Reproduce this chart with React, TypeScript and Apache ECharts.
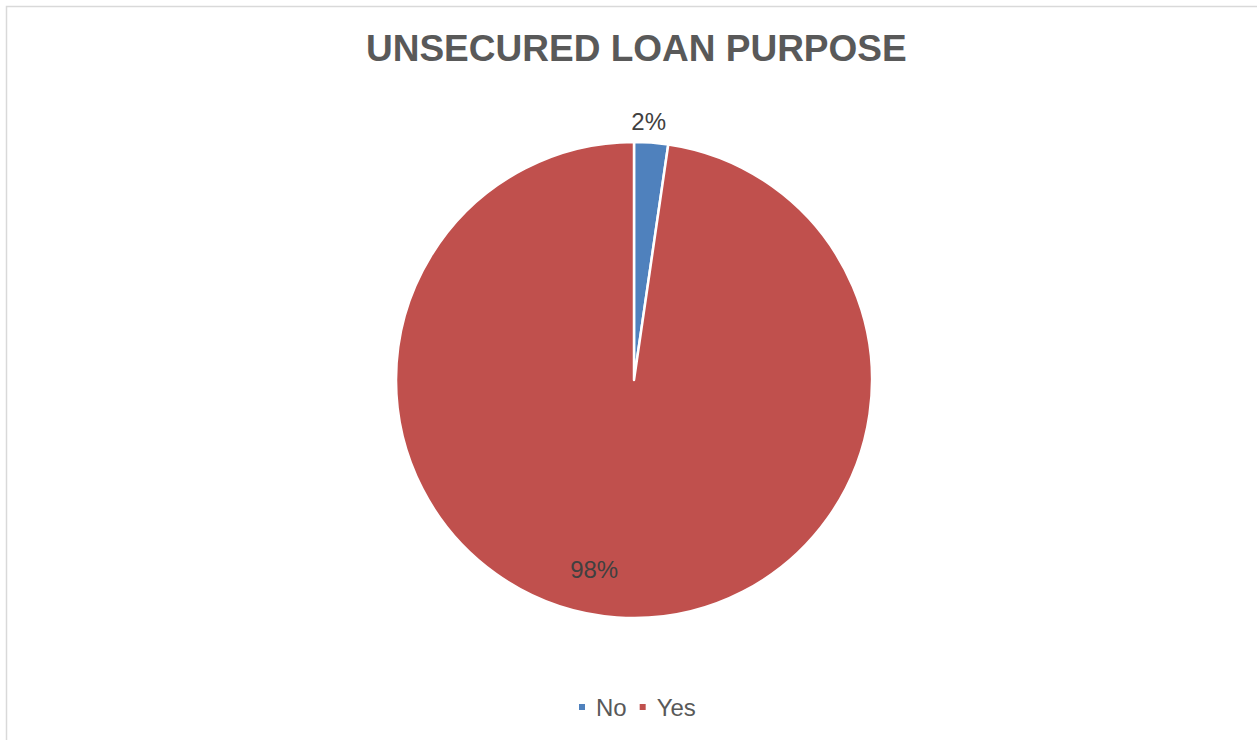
import React, { useEffect, useRef } from "react";
import * as echarts from "echarts";

const titleText = "UNSECURED LOAN PURPOSE";
const categories = ["No", "Yes"];
const values = [2.3, 97.7];
const colors = ["#4f81bd", "#c0504d"];

export default function App() {
  const ref = useRef<HTMLDivElement>(null);
  useEffect(() => {
    document.body.style.margin = "0";
    const chart = echarts.init(ref.current!, null, { renderer: "svg" });
    const cx = 634;
    const cy = 380;
    const R = 238;
    const total = values.reduce((a, b) => a + b, 0);
    const midNo = (values[0] / total) * Math.PI; // half of the first slice angle
    chart.setOption({
      animation: false,
      backgroundColor: "#ffffff",
      title: {
        text: titleText,
        left: 361,
        top: 25,
        textStyle: {
          fontFamily: "Liberation Sans, Arial, sans-serif",
          fontSize: 37,
          fontWeight: "bold",
          color: "#595959",
        },
      },
      graphic: [
        {
          type: "rect",
          shape: { x: 6.5, y: 6.5, width: 1400, height: 900 },
          style: { fill: "none", stroke: "#d9d9d9", lineWidth: 1.5 },
          silent: true,
          z: 0,
        },
      ],
      legend: {
        bottom: 16,
        left: 572,
        itemWidth: 8,
        itemHeight: 8,
        itemGap: 11,
        icon: "rect",
        data: categories,
        textStyle: {
          fontFamily: "Liberation Sans, Arial, sans-serif",
          fontSize: 24,
          color: "#595959",
          padding: [0, 0, 0, 5],
        },
      },
      series: [
        {
          type: "pie",
          center: [cx, cy],
          radius: R,
          startAngle: 90,
          clockwise: true,
          itemStyle: { borderColor: "#ffffff", borderWidth: 2.5 },
          label: {
            fontFamily: "Liberation Sans, Arial, sans-serif",
            fontSize: 24,
            color: "#404040",
            formatter: (p: any) => Math.round(p.percent) + "%",
          },
          labelLine: { show: false },
          labelLayout: (p: any) =>
            p.dataIndex === 1
              ? { dx: -31, dy: 68 }
              : {
                  x: cx + (R + 20) * Math.sin(midNo) - 4,
                  y: cy - (R + 20) * Math.cos(midNo) - 1,
                  align: "center",
                  verticalAlign: "middle",
                },
          data: categories.map((c, i) => ({
            name: c,
            value: values[i],
            itemStyle: { color: colors[i] },
            label: { position: i === 0 ? "outside" : "inside" },
          })),
        },
      ],
    });
    return () => chart.dispose();
  }, []);
  return <div ref={ref} style={{ width: 1257, height: 740 }} />;
}
